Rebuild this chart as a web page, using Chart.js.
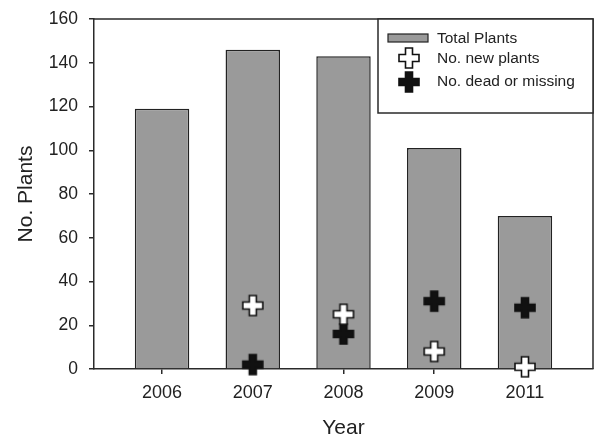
<!DOCTYPE html>
<html>
<head>
<meta charset="utf-8">
<script src="https://cdn.jsdelivr.net/npm/chart.js@4"></script>
<style>
html,body{margin:0;padding:0;background:#fff;overflow:hidden;}
#wrap{width:597px;height:437px;}
canvas{display:block;}
</style>
</head>
<body>
<div id="wrap"><canvas id="c" width="597" height="437"></canvas></div>
<script>
const years = ['2006', '2007', '2008', '2009', '2011'];
const totalPlants = [119, 146, 143, 101, 70];
const newPlants = [null, 29, 25, 8, 1];
const deadOrMissing = [null, 2, 16, 31, 28];
const yTicks = [0, 20, 40, 60, 80, 100, 120, 140, 160];
const seriesNames = ['Total Plants', 'No. new plants', 'No. dead or missing'];

const INK = '#222222';
const BAR_FILL = '#9a9a9a';

function makePlus(fill) {
  const s = 24, c = s / 2, L = 10, W = 3.5;
  const cv = document.createElement('canvas');
  cv.width = s; cv.height = s;
  const g = cv.getContext('2d');
  g.beginPath();
  g.moveTo(c - W, c - L); g.lineTo(c + W, c - L); g.lineTo(c + W, c - W);
  g.lineTo(c + L, c - W); g.lineTo(c + L, c + W); g.lineTo(c + W, c + W);
  g.lineTo(c + W, c + L); g.lineTo(c - W, c + L); g.lineTo(c - W, c + W);
  g.lineTo(c - L, c + W); g.lineTo(c - L, c - W); g.lineTo(c - W, c - W);
  g.closePath();
  g.fillStyle = fill; g.fill();
  g.lineWidth = 1.6; g.strokeStyle = '#111'; g.lineJoin = 'miter'; g.stroke();
  return cv;
}
const whitePlus = makePlus('#ffffff');
const blackPlus = makePlus('#111111');

const toXY = arr => arr.map((v, i) => ({x: i + 1, y: v}));

const framePlugin = {
  id: 'frame',
  beforeDatasetsDraw(chart) {
    const {ctx, chartArea: a} = chart;
    ctx.save();
    ctx.strokeStyle = '#2a2a2a';
    ctx.lineWidth = 1.5;
    ctx.beginPath();
    ctx.moveTo(a.left, a.top); ctx.lineTo(a.right, a.top); ctx.lineTo(a.right, a.bottom);
    ctx.stroke();
    ctx.restore();
  },
  afterDraw(chart) {
    const {ctx, chartArea: a} = chart;
    const bx = 378, by = a.top, bw = a.right - 378, bh = 94;
    ctx.save();
    ctx.fillStyle = '#fff';
    ctx.fillRect(bx, by, bw, bh);
    ctx.strokeStyle = '#2a2a2a';
    ctx.lineWidth = 1.5;
    ctx.strokeRect(bx, by, bw, bh);
    ctx.fillStyle = BAR_FILL;
    ctx.fillRect(388, 34, 40, 8);
    ctx.lineWidth = 1.2;
    ctx.strokeStyle = INK;
    ctx.strokeRect(388, 34, 40, 8);
    ctx.drawImage(whitePlus, 409 - 12, 58 - 12);
    ctx.drawImage(blackPlus, 409 - 12, 82 - 12);
    ctx.fillStyle = INK;
    ctx.font = '15.5px "Liberation Sans", Arial, sans-serif';
    ctx.textBaseline = 'middle';
    ctx.textAlign = 'left';
    ctx.fillText(seriesNames[0], 437, 38.5);
    ctx.fillText(seriesNames[1], 437, 58.5);
    ctx.fillText(seriesNames[2], 437, 82);
    ctx.restore();
  }
};

new Chart(document.getElementById('c'), {
  type: 'bar',
  data: {
    datasets: [
      {
        label: seriesNames[0],
        data: toXY(totalPlants),
        backgroundColor: BAR_FILL,
        borderColor: INK,
        borderWidth: 1.5,
        categoryPercentage: 0.6,
        barPercentage: 1,
        order: 3
      },
      {
        type: 'line',
        label: seriesNames[1],
        data: toXY(newPlants),
        showLine: false,
        pointStyle: whitePlus,
        pointRadius: 10,
        clip: false,
        order: 1
      },
      {
        type: 'line',
        label: seriesNames[2],
        data: toXY(deadOrMissing),
        showLine: false,
        pointStyle: blackPlus,
        pointRadius: 10,
        clip: false,
        order: 2
      }
    ]
  },
  options: {
    responsive: false,
    animation: false,
    devicePixelRatio: 1,
    layout: {autoPadding: false, padding: {top: 19, right: 4, left: 0, bottom: 0}},
    plugins: {legend: {display: false}, tooltip: {enabled: false}},
    scales: {
      x: {
        type: 'linear',
        min: 0.25,
        max: 5.75,
        offset: false,
        afterBuildTicks: s => { s.ticks = years.map((_, i) => ({value: i + 1})); },
        afterFit: s => { s.height = 68; s.paddingLeft = 0; s.paddingRight = 0; },
        grid: {offset: false, drawOnChartArea: false, drawTicks: true, tickLength: 5, color: '#2a2a2a', lineWidth: 1.5},
        border: {display: true, color: '#2a2a2a', width: 1.5},
        ticks: {
          autoSkip: false, maxRotation: 0, padding: 8, color: INK,
          font: {family: '"Liberation Sans", Arial, sans-serif', size: 18},
          callback: v => years[Math.round(v) - 1] || ''
        },
        title: {
          display: true, text: 'Year', color: INK,
          font: {family: '"Liberation Sans", Arial, sans-serif', size: 21},
          padding: {top: 0, bottom: -4}
        }
      },
      y: {
        min: 0,
        max: 160,
        afterBuildTicks: s => { s.ticks = yTicks.map(v => ({value: v})); },
        afterFit: s => { s.width = 94; s.paddingTop = 0; s.paddingBottom = 0; },
        grid: {drawOnChartArea: false, drawTicks: true, tickLength: 5, color: '#2a2a2a', lineWidth: 1.5},
        border: {display: true, color: '#2a2a2a', width: 1.5},
        ticks: {
          padding: 11, color: INK,
          font: {family: '"Liberation Sans", Arial, sans-serif', size: 17.5}
        },
        title: {
          display: true, text: 'No. Plants', color: INK,
          font: {family: '"Liberation Sans", Arial, sans-serif', size: 21},
          padding: {top: 14, bottom: 0}
        }
      }
    }
  },
  plugins: [framePlugin]
});
</script>
</body>
</html>
